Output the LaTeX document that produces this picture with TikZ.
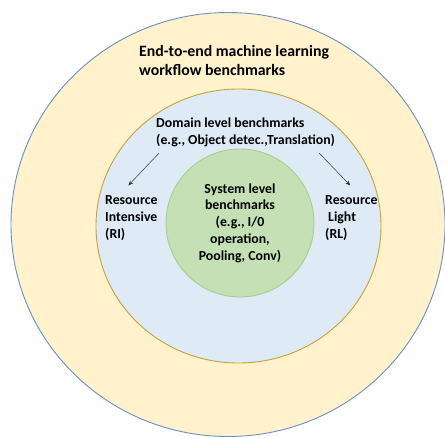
\documentclass[tikz,border=0pt]{standalone}
\usepackage{fontspec}
\setmainfont{Carlito}
\usepackage{tikz}
\usetikzlibrary{arrows.meta}

\definecolor{OuterFill}{HTML}{FFF2CC}
\definecolor{OuterLine}{HTML}{6A8FC4}
\definecolor{MidFill}{HTML}{DEEBF7}
\definecolor{MidLine}{HTML}{C9A03A}
\definecolor{InFill}{HTML}{C5E0B4}
\definecolor{InLine}{HTML}{A6CF8C}

\begin{document}
\begin{tikzpicture}[x=1pt,y=-1pt,
  ring/.style={line width=0.9pt},
  lbl/.style={inner sep=0pt,font=\bfseries\fontsize{13.8}{16.8}\selectfont},
  arr/.style={-{Stealth[length=5pt,width=4pt]},draw=black!80,line width=0.5pt}]
 \useasboundingbox (0,0) rectangle (445,437);
 % the three levels
 \begin{scope}
  \clip (0,0) rectangle (445,437);
  \draw[ring,fill=OuterFill,draw=OuterLine] (228,224.5) ellipse (217 and 212);
 \end{scope}
 \draw[ring,fill=MidFill,draw=MidLine] (238.5,226) ellipse (142.5 and 137);
 \draw[ring,fill=InFill,draw=InLine] (240,223) circle (74);
 % labels
 \node[lbl,anchor=west,align=left,font=\bfseries\fontsize{15.8}{19}\selectfont]
  (e2e) at (139,60.5) {End-to-end machine learning\\workflow benchmarks};
 \node[lbl,anchor=west,align=left] (domain) at (156,132.5)
  {Domain level benchmarks\\(e.g., Object detec.,Translation)};
 \node[lbl,anchor=west,align=left] (ri) at (105,218)
  {Resource\\Intensive\\(RI)};
 \node[lbl,anchor=west,align=left] (rl) at (325,218)
  {Resource\\\hspace{3pt}Light\\(RL)};
 \node[lbl,align=center] (sys) at (240,223)
  {System level\\benchmarks\\(e.g., I/0\\operation,\\Pooling, Conv)};
 % domain splits into RI and RL
 \draw[arr] ([xshift=3pt,yshift=-6pt]domain.south west) -- ([xshift=-3pt,yshift=10pt]ri.north);
 \draw[arr] ([xshift=-16pt,yshift=-6pt]domain.south east) -- ([xshift=-1pt,yshift=10pt]rl.north);
\end{tikzpicture}
\end{document}
